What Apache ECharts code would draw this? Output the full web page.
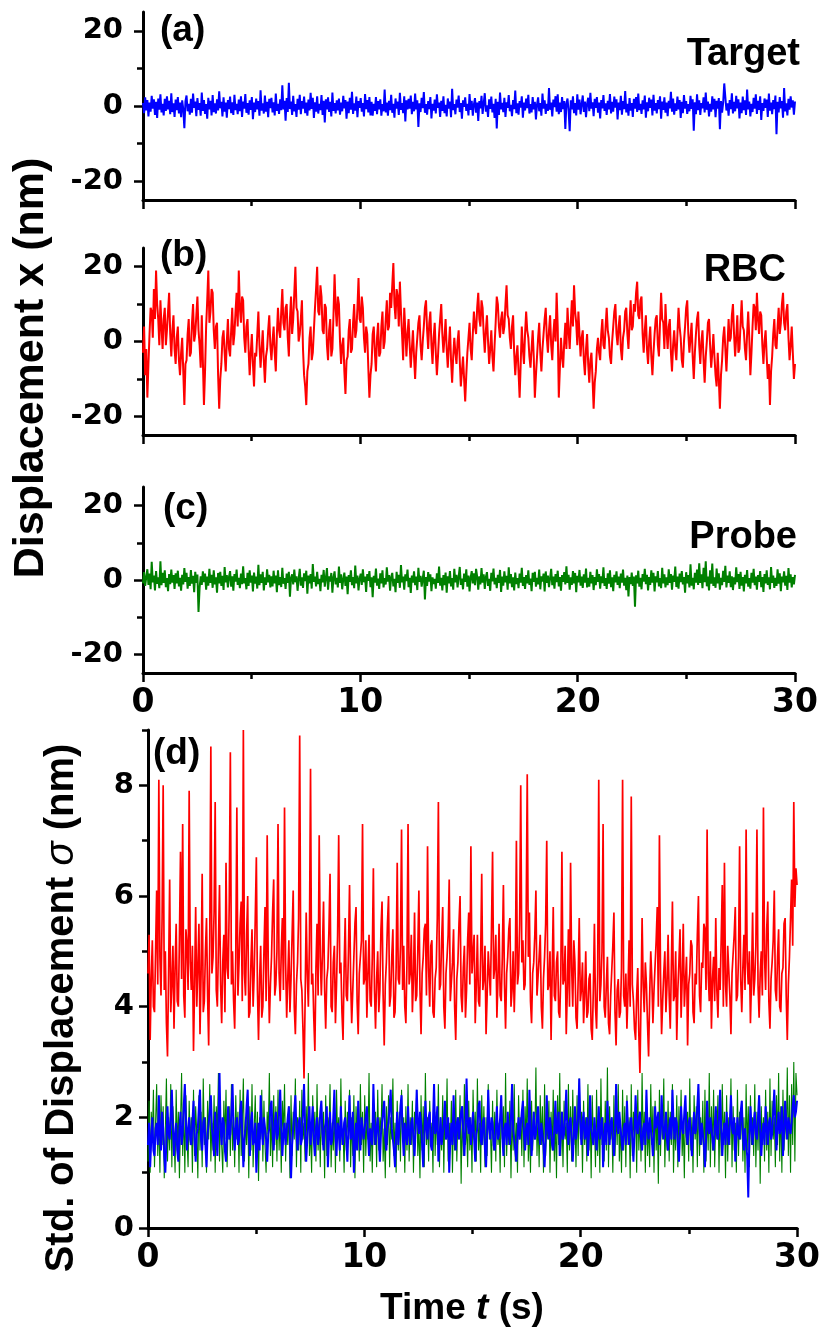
<!DOCTYPE html>
<html><head><meta charset="utf-8">
<script src="https://cdn.jsdelivr.net/npm/echarts@6/dist/echarts.min.js"></script>
<style>html,body{margin:0;padding:0;background:#fff}#c{width:823px;height:1334px}</style>
</head><body><div id="c"></div>
<script>
// Time span (s)
const tMin = 0, tMax = 30;
const xTicks = [0, 10, 20, 30];
const dispTicks = [-20, 0, 20];
const dispMinor = [-10, 10];
const stdTicks = [0, 2, 4, 6, 8];
const stdMinor = [1, 3, 5, 7, 9];
const panelLabels = ['(a)', '(b)', '(c)', '(d)'];
const traceNames = ['Target', 'RBC', 'Probe'];

// (a) Target displacement x (nm), 600 samples over 30 s
const targetX = [
0.8,-1.9,2.3,-1.2,1.6,-2.8,0.9,-1.5,2.7,-0.7,1.8,-2.4,1.1,-3.2,2.0,-1.0,3.1,-1.7,0.6,-2.5,1.9,-1.3,2.6,-0.9,1.4,-2.2,3.4,-1.6,0.7,-2.9,
1.7,-1.1,2.4,-2.0,0.9,-3.0,1.5,-0.8,-5.9,1.3,2.8,-1.4,0.6,-2.3,1.9,-1.8,3.3,-0.5,1.2,-2.7,2.1,-1.0,0.8,-2.6,3.6,-1.3,1.6,-2.1,0.5,-3.4,
2.2,-0.9,1.4,-2.5,2.9,-1.6,0.7,-2.0,1.8,-1.2,3.9,-0.6,1.1,-2.8,2.3,-1.5,0.9,-3.1,1.6,-0.8,2.5,-1.9,1.0,-2.4,3.0,-1.1,0.6,-2.2,1.7,-1.4,
2.6,-2.9,1.2,-0.7,3.2,-1.8,0.8,-2.3,1.5,-1.0,2.4,-3.5,0.9,-1.6,2.0,-0.9,1.3,-2.6,4.2,-1.2,0.7,-2.0,2.8,-1.5,1.1,-3.0,1.9,-0.6,2.2,-1.7,
1.0,-2.5,3.3,-1.3,0.6,-2.1,1.8,-1.1,5.5,-0.9,1.4,-3.9,2.1,-1.6,6.2,-0.8,1.2,-2.4,2.7,-1.4,0.5,-2.9,1.9,-1.0,3.0,-2.2,1.3,-0.7,2.5,-1.9,
0.9,-2.6,1.7,-1.2,3.5,-0.8,2.2,-3.2,1.0,-1.5,2.6,-2.0,0.6,-1.1,2.9,-2.4,1.4,-4.4,1.8,-0.9,2.3,-1.6,1.1,-2.8,3.6,-1.3,0.8,-2.0,1.5,-1.2,
2.0,-2.3,0.9,-1.4,2.7,-0.6,1.6,-3.4,1.2,-1.9,2.2,-1.0,3.8,-2.1,0.7,-1.2,2.5,-3.0,1.3,-0.5,2.1,-1.5,0.8,-2.8,3.2,-0.8,1.6,-1.7,2.4,-2.5,
1.1,-2.6,0.6,-1.3,2.4,-2.2,1.3,-0.9,1.8,-2.6,0.5,-1.4,4.4,-1.7,0.9,-2.6,1.4,-1.1,3.0,-1.8,0.6,-3.1,2.0,-0.7,1.2,-2.4,3.5,-1.0,0.8,-1.9,
2.6,-4.1,1.5,-0.9,1.9,-0.7,2.8,-2.2,1.1,-1.4,3.3,-0.9,1.5,-5.6,0.7,-1.6,2.2,-0.6,3.7,-1.8,0.5,-2.3,1.3,-0.8,2.4,-3.3,0.6,-1.2,1.7,-2.0,
3.1,-0.5,0.9,-2.9,1.4,-1.3,2.6,-1.9,0.3,-2.8,2.0,-0.7,1.2,-3.0,4.6,-1.1,0.5,-2.2,1.7,-0.4,2.8,-1.6,0.8,-3.4,1.5,-0.2,2.3,-1.3,0.6,-2.5,
3.2,-1.0,1.4,-2.6,0.4,2.1,-1.8,0.9,-4.0,1.3,-0.6,2.7,-2.1,0.7,3.4,-1.5,0.2,-2.9,1.8,-0.8,2.5,-1.7,0.6,-3.2,1.9,-6.0,1.1,-2.4,3.6,-0.9,
0.8,-1.6,2.2,-2.9,1.0,-0.5,2.9,-1.4,0.3,-2.7,1.6,-0.8,4.1,-1.9,0.7,-2.3,1.3,-0.4,2.6,-3.1,0.9,-1.2,2.0,-0.6,3.0,-2.0,0.5,-1.7,2.4,-0.9,
1.1,-3.6,0.4,2.3,-1.4,0.8,-2.6,3.3,-0.7,1.5,-2.1,0.6,-1.3,4.8,-1.0,0.9,-2.8,1.7,-0.3,2.6,-1.5,3.1,-2.2,0.9,-1.6,2.4,-0.8,1.3,-6.1,0.7,
2.0,-1.2,-6.7,1.5,-0.9,2.6,-1.9,0.8,-2.5,3.1,-1.0,1.7,-2.2,0.5,2.8,-1.6,1.2,-3.0,0.6,2.2,-1.4,3.5,-0.7,1.0,-2.7,1.9,-0.5,2.4,-1.8,0.9,
-3.3,1.6,-0.6,2.9,-1.3,0.7,-2.4,1.4,-0.9,3.2,-2.0,1.1,-1.5,2.5,-0.4,1.8,-3.6,0.9,-1.1,2.7,-2.3,1.3,-0.8,4.0,-1.7,0.6,-2.6,2.1,-1.2,0.8,
-2.9,1.9,-0.7,2.4,-1.6,3.3,-1.1,0.6,-2.1,1.5,-0.9,2.8,-3.1,1.0,-1.4,2.2,-0.5,1.7,-2.5,3.0,-1.2,0.8,-2.0,1.6,-0.8,2.6,-3.4,1.2,-1.0,2.3,
-1.8,0.9,-2.7,1.4,-0.6,3.8,-1.5,2.0,-2.3,0.7,-1.3,2.5,-0.9,1.6,-3.2,1.1,-1.9,2.9,-0.7,1.3,-2.1,0.5,-1.4,2.7,-0.8,1.8,-6.6,1.0,-2.2,3.1,
-1.1,1.5,-2.4,0.8,-0.6,2.3,-1.7,3.6,-1.0,1.2,-2.8,0.6,-1.5,2.6,-0.9,1.9,-3.0,1.4,-0.7,2.1,-6.2,1.3,-1.8,0.9,6.0,2.4,-1.2,0.7,-2.6,1.6,
-0.8,3.4,-2.0,1.1,-1.4,2.7,-0.6,1.8,-3.3,0.9,-1.9,2.5,-1.1,1.5,-2.4,4.4,-0.9,1.2,-2.8,0.6,-1.6,2.2,-0.7,3.1,-2.1,1.4,-1.0,2.6,-3.7,0.8,
-1.3,2.0,-0.5,1.7,-2.9,3.3,-1.2,0.9,-2.2,1.6,-0.8,2.8,-7.5,1.1,-1.7,2.4,-0.6,1.3,-3.1,4.8,-1.4,0.7,-2.5,1.9,-1.0,2.6,-0.4,1.5,-2.3,1.2
];

// (b) RBC displacement x (nm)
const rbcX = [
-3,4,-9,-2,-15,-6,2,9,8,1,14,6,19,10,6,-1,11,4,-2,6,9,-1,3,8,13,2,-4,3,7,-2,-6,1,4,-5,-9,-3,1,-8,-17,-6,
-5,2,6,-4,-3,5,10,0,2,7,12,3,-1,-7,7,-5,-17,-8,4,11,19,5,8,14,13,3,-2,4,5,-9,-18,-10,-6,1,3,-3,-8,0,6,-2,
-4,3,9,-1,2,8,13,4,19,9,5,12,11,1,-3,4,6,-2,-9,-3,2,-6,-12,-3,-4,2,8,-1,-7,-2,3,-5,-11,-4,-2,3,7,-1,-5,0,
4,-3,-8,2,9,3,1,8,14,5,3,9,10,1,-4,6,12,2,6,13,20,9,8,0,2,6,11,-2,-9,-12,-17,-8,-6,1,4,-5,-3,3,9,14,
20,8,7,15,12,3,2,10,9,-1,-5,3,6,-4,-2,7,18,9,4,12,10,0,-6,-1,1,-8,-14,-5,-4,3,6,-3,-2,5,10,1,3,9,17,6,
5,12,9,1,-3,4,2,-7,-15,-9,-6,2,4,-3,-8,1,5,-4,-3,4,8,-2,0,6,11,3,4,13,9,15,21,10,6,14,12,4,16,8,2,-5,
9,3,-4,2,6,-1,-7,-2,3,-4,-10,-3,1,5,7,-1,-5,0,4,9,11,3,-2,5,8,-1,-6,1,5,-3,-9,-4,2,6,10,2,-3,1,6,-2,
-7,-1,4,-5,-11,-4,1,-3,-6,0,3,-5,-12,-8,-4,-10,-16,-9,-3,1,5,-2,-5,2,8,4,2,9,13,6,4,11,9,2,-3,3,7,0,-6,-2,
3,-4,-8,-1,5,12,10,4,1,6,8,2,4,10,15,7,6,1,-2,4,7,-3,-9,-4,-1,-8,-15,-6,4,-2,-6,2,8,3,1,-4,-7,-2,3,-4,
-15,-9,-4,1,5,-3,-8,-2,2,6,9,1,-3,3,7,-1,-5,2,6,0,13,4,-15,-7,1,-4,-7,0,5,-2,9,3,-2,5,11,4,15,8,5,-1,
8,2,-4,1,3,-5,-9,-2,2,-6,-11,-5,-3,-10,-18,-11,-8,-2,1,-3,-5,2,6,-1,-2,4,9,3,1,-4,-6,0,4,8,10,2,-1,4,7,-2,
-5,1,3,8,9,2,-2,5,11,3,4,10,8,13,16,7,6,11,12,2,-3,3,7,-2,-6,0,4,-4,-9,-3,2,6,7,-1,-4,5,13,6,5,-2,
10,3,-2,4,6,-3,-8,-1,3,-2,-5,2,9,4,1,-5,-7,0,4,9,11,2,-3,1,5,-4,-10,-3,2,6,8,-1,-6,0,3,-5,-11,-4,0,5,
6,-1,-7,-3,2,-4,-9,-12,-3,-10,-18,-9,-5,1,4,-2,-8,-1,6,0,1,7,10,2,-4,1,7,-3,-2,5,11,4,3,-2,-5,2,8,1,-9,-3,
4,10,9,3,13,6,2,8,7,-1,-6,0,3,-4,-10,-6,-17,-8,-4,2,6,-1,-2,4,9,2,5,10,13,5,3,8,10,1,-5,-1,4,-3,-10,-6
];

// (c) Probe displacement x (nm)
const probeX = [
-0.9,2.1,-1.6,0.8,2.9,-1.3,1.7,-2.5,4.9,-0.6,1.2,-2.8,2.4,-1.0,0.7,-2.2,5.0,-1.4,1.9,-0.8,2.6,-1.9,0.5,-3.0,1.6,-1.1,2.8,-0.7,1.3,-2.4,
1.8,-0.9,2.5,-1.7,0.6,-2.9,1.4,-1.2,3.2,-0.5,1.9,-2.3,0.8,-1.6,2.7,-1.0,1.1,-3.3,2.2,-0.8,1.5,-8.6,-2.1,1.0,-1.3,2.3,-0.6,1.7,-2.6,0.9,
-1.5,3.0,-0.8,1.4,-2.1,2.6,-1.2,0.7,-3.4,1.9,-0.9,2.2,-1.6,1.1,-2.7,3.5,-0.6,1.3,-2.0,0.8,2.4,-1.8,1.0,-2.9,1.6,-0.4,2.8,-1.3,0.6,-2.2,
1.7,-1.1,3.7,-0.9,0.5,-2.5,1.9,-1.6,2.6,-0.7,1.2,-3.1,2.0,-1.0,0.9,-2.3,4.1,-1.4,1.5,-0.8,2.2,-2.8,0.7,-1.3,2.9,-0.6,1.4,-2.0,1.0,-1.7,
2.5,-0.9,1.2,-3.3,2.6,-1.4,0.8,-1.9,3.3,-1.0,0.5,-2.4,1.7,-0.8,2.2,-4.5,0.6,1.5,-1.2,2.8,-0.6,1.0,-2.9,0.4,3.0,-1.5,0.7,-2.1,1.8,-0.3,
2.5,-3.7,1.2,-0.9,1.6,-2.3,4.3,-0.5,0.9,-1.7,2.2,-1.1,0.3,-3.0,1.4,-0.6,2.7,-1.8,0.5,3.2,-2.6,1.0,-0.4,1.9,-3.4,0.7,2.3,-1.2,0.6,-2.0,
3.6,-0.8,1.5,-2.5,0.2,2.0,-1.6,0.9,-3.8,1.3,-0.5,2.6,-1.4,0.8,-2.2,3.9,-0.9,1.2,-2.8,0.4,1.7,-1.3,2.9,-0.6,0.9,-3.2,1.6,-0.2,2.4,-1.9,
0.7,-4.6,1.1,-0.7,3.1,-1.5,0.4,-2.4,1.8,-0.9,2.6,-2.0,0.5,-1.2,3.4,-0.4,1.3,-2.9,0.8,1.9,-1.7,0.3,-3.3,2.2,-0.8,1.4,-2.1,4.0,-0.6,0.9,
-2.6,1.5,-0.3,2.8,-1.9,0.6,-3.5,1.2,-0.7,2.3,-1.4,0.9,-2.7,3.3,-0.5,1.1,-1.8,0.4,2.5,-5.2,0.8,-1.6,2.1,-0.4,1.5,-3.0,0.7,-1.1,0.3,-2.3,
1.8,-0.8,3.6,-1.5,0.6,-2.8,1.3,-1.4,2.0,-3.4,1.0,-0.9,2.4,-1.7,0.5,-2.6,3.0,-0.6,1.4,-2.0,0.8,3.5,-1.3,0.4,-2.5,1.7,-0.5,2.9,-1.8,1.2,
-3.1,0.6,2.4,-0.9,1.8,-1.4,3.0,0.9,-2.6,1.0,-1.2,3.2,-0.7,1.5,-2.4,0.8,2.1,-1.6,0.3,-2.9,1.9,-0.4,3.1,-1.2,0.6,-2.2,1.4,-0.8,2.7,-3.2,
0.9,-1.5,2.3,-0.6,1.1,-2.6,3.4,-0.9,1.6,-1.9,0.7,-2.8,2.0,-1.1,0.5,-2.2,1.7,-0.7,3.3,-1.6,0.8,-2.4,1.3,-0.9,2.6,-1.3,0.4,-3.0,1.9,-0.5,
2.2,-1.8,0.6,-1.2,2.8,-2.5,1.0,-0.4,1.7,-3.1,2.3,-0.8,1.2,-1.9,0.5,3.0,-1.4,0.9,-2.3,1.6,-0.6,2.5,-1.7,0.8,-2.9,1.3,-0.5,2.1,-1.2,3.7,
-0.8,1.4,-2.6,0.7,-1.3,2.4,-0.9,1.9,-3.3,1.1,-0.6,2.7,-1.5,0.9,-2.1,1.5,-0.7,3.1,-2.0,0.6,-1.8,2.2,-0.9,1.3,-2.7,0.8,-1.4,2.9,-0.5,1.6,
-2.3,1.0,-0.8,3.4,-1.6,0.5,-2.4,1.8,-1.0,2.6,-1.9,0.7,-3.0,1.4,-0.6,2.3,-1.3,0.9,-2.2,1.7,-0.7,2.8,-1.5,0.6,-2.7,1.2,-4.4,0.8,-1.1,2.0,
-1.6,0.9,-7.2,1.3,-0.9,2.5,-1.8,0.6,-2.5,1.6,-0.4,3.0,-1.1,1.4,-2.8,0.8,-1.3,2.6,-0.7,1.9,-3.1,1.0,-0.6,2.4,-1.7,0.5,-2.2,3.3,-0.9,1.5,
-2.0,0.7,-1.4,2.9,-0.8,1.6,-2.6,1.2,-0.5,3.6,-1.9,0.9,-2.3,1.7,-0.6,2.4,-1.2,0.8,-3.4,2.1,-0.9,1.3,-2.0,4.2,-1.5,0.6,-2.5,1.9,-0.7,2.8,
-1.3,4.5,-0.8,1.5,-2.2,3.3,-0.6,5.0,-1.7,0.9,-2.8,2.6,-1.0,4.4,-1.6,0.7,-2.1,3.1,-0.9,1.8,-2.6,0.6,-1.4,2.5,-0.5,3.8,-2.0,1.2,-0.8,2.3,
-1.9,1.0,-2.7,0.7,-1.2,3.4,-0.6,1.6,-2.4,2.2,-1.5,0.8,-3.1,1.4,-0.9,2.7,-1.8,0.5,-2.3,1.9,-0.7,3.0,-1.4,0.9,-2.6,1.3,-0.5,2.4,-1.9,0.8,
-3.2,1.6,-0.9,2.6,-1.3,0.7,-2.5,3.5,-0.8,1.2,-2.1,0.6,-1.6,2.9,-1.0,1.8,-3.0,0.9,-0.6,2.3,-1.5,1.1,-2.7,3.2,-0.7,1.5,-2.0,0.8,-1.2,1.4
];

// (d) Std. of displacement sigma (nm)
const rbcStd = [
4.6,5.3,3.4,4.5,5.2,4.0,3.9,5.0,6.1,4.4,8.1,4.9,4.2,5.6,8.0,4.3,5.0,3.7,3.1,4.6,6.3,3.9,4.4,5.1,3.6,4.7,5.5,4.1,4.0,5.2,6.8,4.5,7.3,4.2,3.8,5.4,5.1,4.3,7.9,4.8,
4.3,5.1,3.2,4.4,5.8,4.0,4.7,5.5,3.5,4.6,6.4,3.9,4.1,5.0,5.6,4.2,3.3,5.2,8.7,4.6,4.9,5.7,7.7,4.3,4.0,5.1,6.2,4.4,3.7,4.8,5.3,3.9,6.6,4.7,4.5,5.9,8.6,4.4,5.0,4.1,
3.6,4.9,7.6,4.2,4.8,5.5,5.9,4.1,9.0,4.6,4.2,5.3,6.0,3.8,3.9,4.8,5.4,4.0,4.6,5.6,6.7,4.3,3.4,4.5,5.1,3.8,4.0,5.0,5.8,4.1,7.1,4.7,3.7,4.4,4.9,5.7,6.3,4.2,4.4,5.0,
7.3,4.6,4.1,5.0,5.6,4.3,7.6,4.8,3.8,4.5,5.2,3.9,4.5,5.3,6.1,4.0,3.5,4.4,4.8,5.6,8.9,4.5,4.3,3.6,2.7,4.1,5.7,4.6,4.0,5.2,8.3,4.4,4.6,3.8,3.2,4.7,5.5,4.2,7.1,4.9,
4.2,5.0,5.9,4.3,3.6,4.5,4.7,5.4,6.4,4.0,3.9,4.8,5.1,3.7,4.4,5.3,7.1,4.6,4.8,3.9,3.4,4.7,5.6,4.2,4.1,5.0,6.2,4.5,3.7,4.3,4.9,5.5,5.8,4.1,3.5,4.6,4.6,5.2,7.3,4.4,
4.5,5.2,3.8,4.6,5.3,4.1,4.0,4.9,6.5,4.3,3.6,4.5,5.0,3.9,4.3,5.4,5.9,4.2,3.3,4.4,4.8,5.5,6.0,4.0,4.2,4.9,5.4,3.8,3.9,4.7,6.6,4.5,4.4,5.1,7.2,4.3,5.1,4.0,3.7,4.8,
7.3,4.4,4.6,5.3,3.9,4.5,5.7,4.1,4.2,5.0,6.1,4.3,3.5,4.6,4.9,5.4,5.5,4.2,6.9,4.7,4.0,5.1,5.2,3.9,3.8,4.5,4.7,5.6,7.7,4.3,4.4,5.2,5.8,4.0,3.6,4.6,4.9,5.3,6.3,4.1,
4.1,4.8,5.4,4.0,3.4,4.5,4.8,5.5,6.0,4.2,3.9,4.7,5.1,3.8,4.3,5.2,5.7,4.4,6.9,4.6,4.6,5.3,3.7,4.4,5.3,4.1,4.0,4.9,6.4,4.3,4.5,5.1,3.5,4.2,5.0,4.6,4.2,5.4,6.8,4.5,
4.7,5.3,3.8,4.5,5.5,4.2,4.1,4.9,6.2,4.4,3.6,4.6,4.9,5.4,5.6,4.0,4.3,5.0,3.9,4.7,7.0,4.4,4.6,5.5,8.0,4.8,5.2,4.3,4.4,5.6,8.2,4.9,5.7,4.1,3.7,4.6,4.8,5.3,6.1,4.2,
4.2,4.9,5.3,4.0,3.6,4.5,4.9,5.5,7.0,4.3,4.4,5.0,3.4,4.6,5.8,4.2,4.1,4.8,5.0,3.9,3.8,4.6,6.8,4.4,4.5,5.1,3.5,4.3,5.4,4.0,6.6,4.7,4.0,5.2,4.8,3.8,3.6,4.5,5.6,4.1,
4.3,4.8,3.7,4.2,5.0,3.8,3.9,4.5,4.6,3.6,3.4,4.3,5.5,4.0,3.6,4.6,8.1,4.1,4.4,5.0,7.3,4.0,3.8,4.4,4.9,3.7,3.5,4.2,4.2,5.1,5.7,3.9,3.3,4.3,4.5,3.8,3.9,4.7,8.1,4.2,
4.0,4.6,3.6,4.3,5.2,4.0,7.8,4.4,4.1,3.6,3.4,4.2,4.7,3.5,2.8,4.1,5.6,4.4,3.9,4.8,4.4,3.7,3.1,4.2,5.0,4.5,3.7,4.3,4.3,5.2,5.8,4.0,7.1,4.6,3.5,4.1,4.6,5.0,3.9,4.4,
5.3,4.2,3.6,4.7,5.9,4.1,4.2,5.0,3.4,4.3,4.8,5.4,3.8,4.5,5.5,4.0,4.0,4.9,3.3,4.4,4.6,5.2,5.1,3.9,3.7,4.6,4.4,5.3,6.0,4.2,3.9,4.8,4.7,5.5,5.4,4.3,7.2,4.6,4.1,5.0,
3.6,4.5,4.9,4.1,5.6,4.3,3.8,4.7,4.3,5.2,6.2,4.0,6.6,4.4,4.0,5.1,5.1,4.2,3.5,4.6,4.6,5.3,5.8,4.1,4.2,4.9,6.9,4.5,3.9,4.7,5.3,4.3,7.2,4.8,4.4,5.0,3.7,4.5,5.7,4.2,
4.5,5.1,7.2,4.4,3.8,4.6,5.0,4.2,7.6,4.9,4.3,5.4,5.9,4.1,3.6,4.5,4.8,5.2,6.1,4.3,4.1,4.9,5.4,4.0,3.9,4.6,4.7,5.5,5.6,4.2,3.4,4.4,4.9,5.6,6.3,5.1,7.7,5.8,6.5,6.2
];
const probeStd = [
1.2,2.3,1.0,2.1,1.6,2.5,1.1,1.9,2.6,1.3,2.0,1.0,2.4,1.5,2.2,0.9,1.8,2.7,1.2,2.0,1.4,2.6,1.1,2.2,1.7,1.0,2.5,1.4,2.1,0.9,1.9,2.8,1.3,2.2,1.0,2.4,1.6,1.1,2.3,1.5,
2.0,1.0,2.5,1.3,2.2,1.7,0.9,2.4,1.4,2.1,1.1,2.7,1.5,2.0,1.0,2.3,1.6,2.6,1.2,1.9,1.4,2.4,1.0,2.2,1.7,2.8,1.2,2.0,1.5,1.0,2.3,1.6,2.5,1.1,1.9,2.2,1.3,2.6,1.4,2.0,
1.1,2.4,1.6,2.1,1.0,2.5,1.3,1.9,2.7,1.2,2.0,1.5,2.3,0.9,2.2,1.4,2.6,1.1,1.8,2.4,1.3,2.1,0.85,2.0,1.6,2.5,1.2,2.3,1.5,1.0,2.1,1.7,2.8,1.3,2.0,1.1,2.4,1.5,2.2,1.2,
2.5,1.4,2.0,1.0,2.3,1.7,2.6,1.2,1.9,1.5,2.2,0.9,2.4,1.3,2.1,1.6,2.7,1.1,2.0,1.4,2.3,1.0,2.5,1.6,1.9,1.2,2.2,1.5,2.8,1.3,1.8,1.0,2.4,1.6,2.1,1.2,2.6,1.4,2.0,1.1,
2.3,1.5,2.1,0.9,2.4,1.3,2.0,1.7,2.6,1.1,1.9,1.4,2.2,1.0,2.5,1.6,2.0,1.2,2.7,1.5,1.8,1.0,2.3,1.4,2.1,1.7,2.5,1.1,2.0,1.3,2.4,0.9,2.2,1.6,1.9,1.2,2.6,1.5,2.1,1.0,
2.4,1.3,2.0,1.6,2.8,1.2,1.9,1.0,2.3,1.5,2.1,1.1,2.5,1.4,2.0,1.7,2.6,1.2,1.8,0.9,2.2,1.5,2.4,1.1,2.0,1.6,2.7,1.3,1.9,1.0,2.3,1.4,2.1,1.2,2.5,1.6,2.0,1.0,2.2,1.4,
2.6,1.2,2.0,1.5,2.3,1.0,2.1,1.7,2.5,1.3,1.9,0.9,2.4,1.4,2.2,1.1,2.8,1.5,2.0,1.2,2.3,1.6,1.9,1.0,2.5,1.3,2.1,1.5,2.6,1.1,2.0,1.4,2.4,1.0,2.2,1.6,2.7,1.2,1.9,1.5,
2.3,1.0,2.1,1.4,2.5,1.2,2.0,1.6,2.4,0.8,2.2,1.3,2.6,1.5,1.9,1.1,2.3,1.4,2.0,1.0,2.5,1.6,2.1,1.2,2.7,1.4,1.9,1.0,2.4,1.5,2.2,1.1,2.0,1.3,2.6,1.6,1.8,1.0,2.3,1.4,
2.1,1.2,2.5,1.5,1.9,1.0,2.4,1.6,2.2,1.1,2.8,1.3,2.0,1.5,2.3,0.9,2.1,1.4,2.6,1.2,1.9,1.0,2.4,1.6,2.0,1.3,2.5,1.1,2.2,1.5,2.7,1.2,1.9,1.0,2.3,1.4,2.1,1.6,2.9,1.3,
2.0,1.1,2.4,1.5,2.2,1.0,2.6,1.3,1.9,1.6,2.3,1.0,2.1,1.4,2.5,1.2,2.0,0.9,2.4,1.5,2.8,1.3,2.1,1.1,2.3,1.6,1.9,1.0,2.6,1.4,2.2,1.2,2.5,1.5,2.0,1.1,2.4,1.3,2.7,1.6,
2.1,1.0,2.3,1.5,2.0,1.2,2.6,1.4,2.2,0.9,2.4,1.6,1.9,1.1,2.5,1.3,2.1,1.0,2.7,1.5,2.0,1.2,2.3,1.4,2.9,1.1,2.2,1.6,2.0,1.0,2.4,1.3,2.1,1.5,2.6,1.2,1.9,1.0,2.5,1.4,
2.2,1.1,2.4,1.5,2.0,0.9,2.6,1.3,2.1,1.6,2.3,1.0,2.5,1.4,2.0,1.2,2.8,1.5,2.1,1.0,2.4,1.3,1.9,1.1,2.6,1.5,2.2,1.0,2.3,1.4,2.0,0.8,2.5,1.3,2.2,1.6,2.7,1.1,2.0,1.4,
2.3,1.2,2.1,1.5,2.6,1.0,2.0,1.4,2.4,1.1,2.2,1.6,2.5,1.3,1.9,0.9,2.3,1.5,2.1,1.2,2.7,1.4,2.0,1.0,2.4,1.6,2.2,1.1,2.6,1.3,2.0,1.5,2.3,1.0,2.5,1.2,2.1,1.4,2.8,1.1,
2.2,1.4,2.5,1.1,2.0,1.6,2.4,1.0,2.3,1.3,2.6,1.5,2.1,0.9,2.4,1.2,2.0,1.5,2.7,1.1,2.2,1.4,1.9,1.0,2.5,1.3,2.1,1.6,2.3,1.2,2.0,1.0,2.6,1.4,2.2,1.1,2.4,1.5,2.0,1.3,
2.6,1.1,2.1,1.4,2.4,0.8,2.2,1.5,2.0,1.2,2.5,1.4,2.1,1.0,2.7,1.3,2.3,1.6,2.0,1.1,2.4,1.5,2.8,1.2,2.2,1.0,2.5,1.4,2.1,1.6,2.9,1.3,2.4,1.0,2.6,1.5,3.0,1.2,2.8,2.4
];
const targetStd = [
1.5,1.9,1.1,1.6,2.0,1.4,1.3,1.8,1.9,1.5,2.4,1.7,1.4,2.1,1.8,1.3,1.0,1.6,2.2,1.7,1.6,2.0,2.5,1.8,1.3,1.7,1.9,1.4,1.2,1.8,2.1,1.5,1.7,2.2,2.6,1.9,1.4,1.8,2.0,1.6,
1.5,1.9,2.3,1.6,1.2,1.7,1.8,2.2,2.5,1.6,1.4,1.9,2.0,1.5,1.1,1.7,1.7,2.1,2.4,1.8,1.6,1.3,2.1,1.7,1.3,1.9,2.8,1.8,1.5,2.0,1.9,1.4,1.2,1.7,2.2,1.6,1.7,2.1,2.6,1.8,
1.4,1.8,2.0,1.5,1.6,2.1,2.3,1.7,1.1,1.6,1.8,2.2,2.5,1.7,1.3,1.9,2.1,1.5,1.6,1.9,1.0,1.5,1.9,1.4,2.4,1.8,1.5,2.0,2.0,1.6,1.2,1.7,1.8,2.2,2.3,1.7,1.4,1.9,2.1,1.6,
1.7,2.1,2.5,1.8,1.3,1.7,1.9,1.5,1.5,2.0,2.2,1.6,0.9,1.5,1.8,2.1,2.4,1.7,1.4,1.9,2.0,1.5,1.6,2.1,2.6,1.8,1.2,1.6,1.9,2.2,1.5,1.8,2.2,1.6,1.3,1.8,2.0,1.5,1.7,2.1,
2.3,1.7,1.4,1.8,1.9,2.2,1.1,1.6,2.1,1.5,1.6,2.0,2.5,1.7,1.3,1.9,1.8,1.4,2.2,1.7,1.5,1.9,2.0,1.6,1.2,1.8,2.4,1.6,1.7,2.1,1.0,1.5,1.9,1.4,2.3,1.8,1.4,2.0,2.0,1.6,
1.6,2.0,2.2,1.7,1.3,1.8,1.8,1.5,2.6,1.9,1.5,1.8,2.0,1.6,1.2,1.7,1.7,2.1,2.3,1.6,1.4,1.8,1.9,2.2,2.5,1.8,1.6,1.4,1.1,1.7,2.1,1.5,1.8,2.2,2.4,1.7,1.3,1.9,1.9,1.5,
2.2,1.7,1.5,1.9,2.0,1.6,1.3,1.8,2.5,1.9,1.7,2.1,1.9,1.5,1.1,1.6,2.3,1.8,1.6,2.0,2.1,1.5,1.4,1.9,2.6,1.7,1.8,2.2,1.2,1.6,2.0,1.5,1.5,1.9,2.3,1.6,1.7,2.0,1.0,1.6,
1.9,1.5,2.4,1.8,1.4,1.9,2.0,1.6,1.6,2.1,2.2,1.7,1.3,1.8,2.7,1.9,1.7,2.0,1.5,1.8,2.1,1.6,1.2,1.7,1.8,2.2,2.3,1.6,1.5,1.9,2.0,1.4,1.1,1.7,2.5,1.8,1.6,2.0,1.9,1.5,
1.4,1.8,2.2,1.6,1.7,2.0,2.4,1.7,1.3,1.8,1.9,1.5,2.1,1.7,1.5,2.0,2.6,1.8,1.8,1.4,1.2,1.7,2.0,1.6,1.6,2.1,2.3,1.7,1.4,1.8,1.9,1.5,2.5,1.9,1.3,1.7,2.1,1.6,1.7,2.0,
2.2,1.7,1.5,1.9,1.9,1.5,1.1,1.6,2.4,1.8,1.6,2.0,2.0,1.5,1.4,1.8,2.3,1.7,1.8,2.1,1.3,1.7,2.1,1.6,1.7,2.0,2.5,1.8,1.5,1.9,2.0,1.6,1.2,1.7,2.2,1.6,1.6,2.0,2.7,1.9,
1.5,1.9,2.1,1.6,1.7,2.0,1.3,1.7,2.4,1.8,1.8,1.5,2.0,1.7,1.4,1.8,2.2,1.6,1.6,2.0,1.1,1.6,1.9,1.5,2.3,1.8,1.5,1.9,2.0,1.6,1.3,1.7,2.6,1.9,1.7,2.1,2.1,1.6,1.4,1.8,
1.9,1.5,2.3,1.8,1.5,1.9,2.0,1.6,1.2,1.7,2.4,1.8,1.7,2.0,2.1,1.6,1.4,1.8,1.9,1.5,2.5,1.8,1.6,2.0,2.0,1.6,1.3,1.7,2.2,1.8,1.8,2.1,1.5,1.7,2.4,1.9,1.6,1.8,2.1,1.6,
1.4,1.8,2.0,1.6,2.5,1.9,1.6,2.0,1.9,1.5,1.2,1.7,2.2,1.8,1.7,2.1,2.4,1.7,1.5,1.9,2.0,1.6,1.3,1.8,2.1,1.7,1.8,2.2,2.6,1.8,1.5,1.9,1.9,1.5,1.1,1.6,2.3,1.8,1.7,2.0,
2.0,1.6,1.4,1.8,2.2,1.7,1.6,2.0,2.5,1.8,1.3,1.7,1.9,1.5,2.1,1.7,1.5,1.9,2.4,1.8,1.7,2.0,1.2,1.6,2.0,1.7,1.6,2.1,2.3,1.7,1.4,1.8,1.8,1.3,0.55,1.6,2.2,1.8,1.5,1.9,
2.1,1.7,1.6,2.0,2.4,1.8,1.3,1.7,1.9,1.5,2.2,1.8,1.5,1.9,2.0,1.6,1.7,2.1,2.5,1.9,1.4,1.8,2.1,1.7,1.8,2.2,1.3,1.7,2.3,1.9,1.6,2.0,2.0,1.7,1.9,2.2,2.4,2.0,2.1,2.3
];

const BLUE = '#0000ff', RED = '#ff0000', GREEN = '#008000';
const TICKFONT = 'DejaVu Sans';
const TEXTFONT = 'Liberation Sans';

function withTime(arr) {
  const n = arr.length;
  return arr.map((v, i) => [tMin + (tMax - tMin) * i / (n - 1), v]);
}

const grids = [
  {left: 143, top: 12, width: 652, height: 188},
  {left: 143, top: 248, width: 652, height: 187},
  {left: 143, top: 487, width: 652, height: 186},
  {left: 148, top: 730, width: 651, height: 498}
];

function xAx(gi, showLabel) {
  return {
    type: 'value', gridIndex: gi, min: tMin, max: tMax, interval: 10,
    axisLine: {show: true, onZero: false, lineStyle: {color: '#000', width: 3}},
    axisTick: {show: true, length: 9, lineStyle: {color: '#000', width: 2.5}},
    minorTick: {show: true, splitNumber: 2, length: 6, lineStyle: {color: '#000', width: 2.5}},
    splitLine: {show: false}, minorSplitLine: {show: false},
    axisLabel: {show: showLabel, customValues: xTicks, fontFamily: TICKFONT, fontWeight: 'bold', fontSize: 33, color: '#000', margin: 14}
  };
}
function yMajor(gi, min, max, ticks, margin) {
  return {
    type: 'value', gridIndex: gi, min: min, max: max, position: 'left',
    axisLine: {show: true, onZero: false, lineStyle: {color: '#000', width: 3}},
    axisTick: {show: true, customValues: ticks, length: 9, lineStyle: {color: '#000', width: 2.5}},
    axisLabel: {show: true, customValues: ticks, fontFamily: TICKFONT, fontWeight: 'bold', fontSize: 29, color: '#000', margin: margin},
    splitLine: {show: false}
  };
}
function yMinor(gi, min, max, ticks) {
  return {
    type: 'value', gridIndex: gi, min: min, max: max, position: 'left', offset: 0,
    axisLine: {show: false},
    axisTick: {show: true, customValues: ticks, length: 6, lineStyle: {color: '#000', width: 2.5}},
    axisLabel: {show: false},
    splitLine: {show: false}
  };
}

function line(xi, yi, arr, color, w) {
  return {
    type: 'line', xAxisIndex: xi, yAxisIndex: yi, data: withTime(arr),
    showSymbol: false, symbol: 'none', sampling: null,
    lineStyle: {color: color, width: w, join: 'bevel'}, itemStyle: {color: color},
    emphasis: {disabled: true}, silent: true
  };
}

function txt(x, y, text, size, align, extra) {
  return Object.assign({
    type: 'text', x: x, y: y, silent: true,
    style: {text: text, fontFamily: TEXTFONT, fontWeight: 'bold', fontSize: size, fill: '#000',
      align: align, textAlign: align, verticalAlign: 'middle', textVerticalAlign: 'middle'}
  }, extra || {});
}

const chart = echarts.init(document.getElementById('c'), null, {renderer: 'canvas'});
chart.setOption({
  animation: false,
  backgroundColor: '#fff',
  grid: grids,
  xAxis: [xAx(0, false), xAx(1, false), xAx(2, true), xAx(3, true)],
  yAxis: [
    yMajor(0, -25, 25, dispTicks, 20), yMinor(0, -25, 25, dispMinor),
    yMajor(1, -25, 25, dispTicks, 20), yMinor(1, -25, 25, dispMinor),
    yMajor(2, -25, 25, dispTicks, 20), yMinor(2, -25, 25, dispMinor),
    yMajor(3, 0, 9, stdTicks, 14), yMinor(3, 0, 9, stdMinor)
  ],
  series: [
    line(0, 0, targetX, BLUE, 2.0),
    line(1, 2, rbcX, RED, 2.0),
    line(2, 4, probeX, GREEN, 2.0),
    line(3, 6, rbcStd, RED, 1.7),
    line(3, 6, probeStd, GREEN, 1.1),
    line(3, 6, targetStd, BLUE, 2.0)
  ],
  graphic: [
    txt(160, 31, panelLabels[0], 37, 'left'),
    txt(160, 256, panelLabels[1], 37, 'left'),
    txt(163, 509, panelLabels[2], 37, 'left'),
    txt(153, 754, panelLabels[3], 37, 'left'),
    txt(800, 55, traceNames[0], 38, 'right'),
    txt(786, 271, traceNames[1], 38, 'right'),
    txt(797, 538, traceNames[2], 38, 'right'),
    txt(31, 368, 'Displacement x (nm)', 43, 'center', {rotation: Math.PI / 2}),
    {
      type: 'text', x: 62, y: 1008, rotation: Math.PI / 2, silent: true,
      style: {
        text: '{b|Std. of Displacement }{s|σ}{b| (nm)}',
        align: 'center', textAlign: 'center', verticalAlign: 'middle', textVerticalAlign: 'middle',
        rich: {
          b: {fontFamily: TEXTFONT, fontWeight: 'bold', fontSize: 40, fill: '#000', color: '#000'},
          s: {fontFamily: TEXTFONT, fontStyle: 'italic', fontWeight: 'normal', fontSize: 40, fill: '#000', color: '#000'}
        }
      }
    },
    {
      type: 'text', x: 462, y: 1309, silent: true,
      style: {
        text: '{b|Time }{i|t}{b| (s)}',
        align: 'center', textAlign: 'center', verticalAlign: 'middle', textVerticalAlign: 'middle',
        rich: {
          b: {fontFamily: TEXTFONT, fontWeight: 'bold', fontSize: 37, fill: '#000', color: '#000'},
          i: {fontFamily: TEXTFONT, fontStyle: 'italic', fontWeight: 'bold', fontSize: 37, fill: '#000', color: '#000'}
        }
      }
    }
  ]
});
</script>
</body></html>
